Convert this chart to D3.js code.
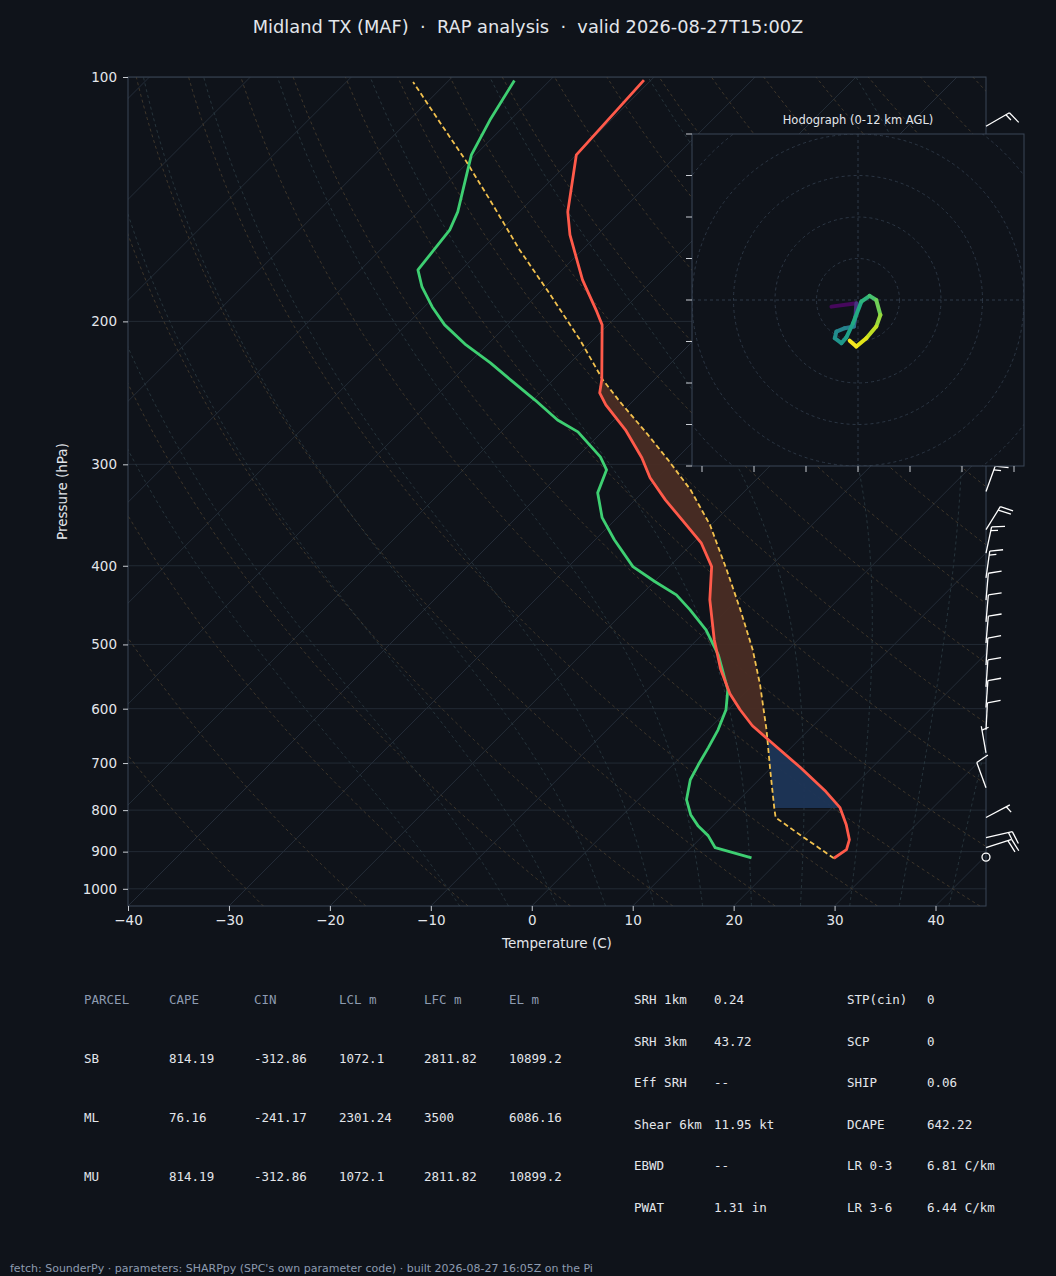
<!DOCTYPE html>
<html>
<head>
<meta charset="utf-8">
<script src="https://cdn.jsdelivr.net/npm/d3@7/dist/d3.min.js"></script>
<style>
  body { margin: 0; background: #0f131a; }
  svg { display: block; }
  text { font-family: "DejaVu Sans", sans-serif; }
  .mono { font-family: "DejaVu Sans Mono", monospace; }
</style>
</head>
<body>
<svg id="chart" width="1056" height="1276"></svg>
<script>
// ---- sounding data ----
var tempP = [917, 895, 870, 833.7, 794.5, 759, 709, 659, 629.7, 601.8, 575, 537, 493.4, 440.5, 401, 374.8, 351, 331.8, 311.7, 294.5, 272, 253.5, 245, 236, 202, 194.7, 177.8, 156.5, 146.6, 124.7, 100.9];
var tempT = [25.2, 25.6, 24.9, 23.1, 20.8, 17.8, 12.9, 7.4, 4.0, 1.2, -1.4, -4.7, -8.3, -12.7, -15.8, -19.2, -23.4, -27.0, -30.7, -33.5, -37.9, -42.3, -44.1, -45.2, -50.6, -52.4, -57.0, -62.7, -65.2, -70.0, -70.7];

var dewP = [916, 890, 860, 836, 810.5, 776.7, 734, 703, 670, 637, 601.8, 568.6, 515, 479.7, 453, 434.4, 418.6, 401, 371.6, 349, 325.3, 304.7, 293.7, 273.6, 264.5, 250, 236.8, 225, 213.8, 202, 192, 181.4, 172.8, 165.6, 154.3, 146.6, 124.7, 113, 101];
var dewT = [17.0, 12.4, 10.5, 8.5, 6.7, 4.8, 3.2, 2.5, 1.8, 1.0, -0.2, -2.0, -6.4, -10.1, -13.7, -16.5, -19.9, -23.6, -28.1, -31.5, -34.4, -35.8, -37.7, -42.4, -45.6, -49.8, -54.0, -57.9, -62.1, -66.2, -69.2, -72.2, -74.3, -74.6, -75.1, -76.1, -80.4, -82.0, -83.5];

var parcelP = [917, 857.8, 817, 799, 713, 637, 560.6, 507.6, 453, 404.6, 356.2, 322.5, 296.2, 273.6, 251.3, 236, 210.8, 185.5, 163.3, 141.7, 126.5, 113.6, 101.4];
var parcelT = [25.2, 19.5, 15.4, 14.5, 10.1, 5.8, 0.7, -3.5, -8.7, -14.0, -20.1, -25.5, -30.7, -35.7, -41.2, -45.1, -51.3, -58.7, -66.2, -74.1, -80.5, -86.8, -93.4];

// wind barbs: pressure (hPa), direction (deg), speed (kt)
var barbP   = [115, 150, 200, 250, 300, 324, 361, 386, 414, 441, 469, 498, 530, 564, 598, 637, 680, 751, 817, 865, 890];
var barbDir = [60, 40, 30, 30, 25, 20, 32, 12, 8, 5, 5, 5, 4, 4, 4, 3, 350, 340, 62, 77, 72];
var barbSpd = [15, 15, 15, 15, 15, 15, 20, 15, 15, 10, 10, 10, 10, 10, 10, 10, 5, 10, 5, 15, 20];
var calmP = 914;

// hodograph u/v (kt) and height AGL (km), 0 -> 12 km
var hodoU = [-6.4, -0.4, -0.6, -1.0, -3.2, -5.2, -5.6, -4.0, -2.8, -1.2, 0.8, 2.8, 4.4, 5.4, 4.4, 2.0, -0.4, -2.0];
var hodoV = [-1.6, -0.8, -4.0, -6.4, -6.8, -7.6, -9.2, -10.4, -9.0, -5.6, -0.4, 1.0, 0, -3.6, -6.4, -9.2, -11.2, -9.8];
var hodoZ = [0, 0.5, 3, 4.5, 5.2, 5.6, 6, 6.3, 6.6, 7, 7.5, 8, 9, 9.8, 10.5, 11.2, 11.7, 12];

var pressureTicks = [100, 200, 300, 400, 500, 600, 700, 800, 900, 1000];
var tempTicks = [-40, -30, -20, -10, 0, 10, 20, 30, 40];

var parcelRows = [
  ["SB", "814.19", "-312.86", "1072.1", "2811.82", "10899.2"],
  ["ML", "76.16", "-241.17", "2301.24", "3500", "6086.16"],
  ["MU", "814.19", "-312.86", "1072.1", "2811.82", "10899.2"]
];
var parcelHead = ["PARCEL", "CAPE", "CIN", "LCL m", "LFC m", "EL m"];
var paramsLeft = [["SRH 1km", "0.24"], ["SRH 3km", "43.72"], ["Eff SRH", "--"], ["Shear 6km", "11.95 kt"], ["EBWD", "--"], ["PWAT", "1.31 in"]];
var paramsRight = [["STP(cin)", "0"], ["SCP", "0"], ["SHIP", "0.06"], ["DCAPE", "642.22"], ["LR 0-3", "6.81 C/km"], ["LR 3-6", "6.44 C/km"]];

// ---- layout ----
var svg = d3.select('#chart');
var L = 128, R = 986, T = 77, B = 906;
var bg = '#0f131a', spine = '#3a4656', txt = '#e3e6eb';

var x = d3.scaleLinear().domain([-40, 45]).range([L, R]);
var y = d3.scaleLog().domain([1050, 100]).range([B, T]);
var sx = function(t, p) { return x(t) + (B - y(p)); };

svg.append('rect').attr('width', 1056).attr('height', 1276).attr('fill', bg);

svg.append('clipPath').attr('id', 'plotclip').append('rect')
  .attr('x', L).attr('y', T).attr('width', R - L).attr('height', B - T);
var g = svg.append('g').attr('clip-path', 'url(#plotclip)');

// background lines
var pGrid = d3.range(0, 61).map(function(i) { return 1050 * Math.pow(100 / 1050, i / 60); });
var line = d3.line().x(function(d) { return sx(d[0], d[1]); }).y(function(d) { return y(d[1]); });

// isotherms
d3.range(-150, 60, 10).forEach(function(t) {
  g.append('path').attr('d', line([[t, 1050], [t, 100]]))
    .attr('stroke', '#2a3340').attr('stroke-width', 0.8).attr('fill', 'none');
});
// isobars
pressureTicks.forEach(function(p) {
  g.append('line').attr('x1', L).attr('x2', R).attr('y1', y(p)).attr('y2', y(p))
    .attr('stroke', '#252d38').attr('stroke-width', 0.9);
});
// dry adiabats
d3.range(-30, 210, 10).forEach(function(th) {
  var pts = pGrid.map(function(p) { return [(th + 273.15) * Math.pow(p / 1000, 0.2857) - 273.15, p]; });
  g.append('path').attr('d', line(pts)).attr('fill', 'none')
    .attr('stroke', '#4a3f2e').attr('stroke-width', 0.8).attr('stroke-dasharray', '3,3');
});
// moist adiabats
function esat(tc) { return 6.112 * Math.exp(17.67 * tc / (tc + 243.5)); }
function moistGrad(tc, p) {
  var tk = tc + 273.15, rs = 0.622 * esat(tc) / (p - esat(tc));
  var Rd = 287.04, cp = 1005.7, Lv = 2.501e6;
  return (Rd * tk + Lv * rs) / (cp + Lv * Lv * rs * 0.622 / (Rd * tk * tk)) / p;
}
d3.range(-10, 50, 5).forEach(function(t0) {
  var pts = [[t0, 1000]], t = t0;
  for (var p = 1000; p > 100; p -= 5) { t -= moistGrad(t, p) * 5; pts.push([t, p - 5]); }
  var lo = [], tt = t0;
  for (var q = 1000; q < 1050; q += 5) { tt += moistGrad(tt, q) * 5; lo.push([tt, q + 5]); }
  pts = lo.reverse().concat(pts);
  g.append('path').attr('d', line(pts)).attr('fill', 'none')
    .attr('stroke', '#2c3c44').attr('stroke-width', 0.8).attr('stroke-dasharray', '3,3');
});

// CAPE / CIN shading
function interp(P, V) {
  return function(p) {
    for (var i = 0; i < P.length - 1; i++) {
      var a = P[i], b = P[i + 1];
      if ((p <= a && p >= b)) {
        var f = Math.log(a / p) / Math.log(a / b);
        return V[i] + f * (V[i + 1] - V[i]);
      }
    }
    return V[V.length - 1];
  };
}
var fT = interp(tempP, tempT), fP = interp(parcelP, parcelT);
var capeGrid = d3.range(200, 700, 2);
g.append('path').datum(capeGrid)
  .attr('d', d3.area()
    .x0(function(p) { return sx(fT(p), p); })
    .x1(function(p) { return sx(Math.max(fT(p), fP(p)), p); })
    .y(function(p) { return y(p); }))
  .attr('fill', '#4a2c24').attr('opacity', 0.95);
var cinGrid = d3.range(600, 796, 1);
g.append('path').datum(cinGrid)
  .attr('d', d3.area()
    .x0(function(p) { return sx(fP(p), p); })
    .x1(function(p) { return sx(Math.max(fT(p), fP(p)), p); })
    .y(function(p) { return y(p); }))
  .attr('fill', '#1d3557').attr('opacity', 0.95);

// profiles
function prof(P, V) { return P.map(function(p, i) { return [V[i], p]; }); }
g.append('path').attr('d', line(prof(parcelP, parcelT))).attr('fill', 'none')
  .attr('stroke', '#f2c14e').attr('stroke-width', 1.8).attr('stroke-dasharray', '5,3');
g.append('path').attr('d', line(prof(dewP, dewT))).attr('fill', 'none')
  .attr('stroke', '#3ecf72').attr('stroke-width', 2.8).attr('stroke-linejoin', 'round');
g.append('path').attr('d', line(prof(tempP, tempT))).attr('fill', 'none')
  .attr('stroke', '#ff5a4a').attr('stroke-width', 2.8).attr('stroke-linejoin', 'round');

// frame and axes
svg.append('rect').attr('x', L).attr('y', T).attr('width', R - L).attr('height', B - T)
  .attr('fill', 'none').attr('stroke', spine);
var yAxis = svg.append('g').attr('transform', 'translate(' + L + ',0)')
  .call(d3.axisLeft(y).tickValues(pressureTicks).tickFormat(d3.format('d')).tickSize(5).tickPadding(6));
var xAxis = svg.append('g').attr('transform', 'translate(0,' + B + ')')
  .call(d3.axisBottom(x).tickValues(tempTicks).tickFormat(function(d) { return d < 0 ? '\u2212' + (-d) : d; }).tickSize(5).tickPadding(4));
[xAxis, yAxis].forEach(function(a) {
  a.select('.domain').remove();
  a.selectAll('line').attr('stroke', '#c8ccd2');
  a.selectAll('text').attr('fill', txt).style('font-size', '13.5px');
});
svg.append('text').attr('x', (L + R) / 2).attr('y', 948).attr('text-anchor', 'middle')
  .attr('fill', txt).style('font-size', '13.5px').text('Temperature (C)');
svg.append('text').attr('transform', 'translate(67,' + (T + B) / 2 + ') rotate(-90)').attr('text-anchor', 'middle')
  .attr('fill', txt).style('font-size', '13.5px').text('Pressure (hPa)');
svg.append('text').attr('x', 528).attr('y', 33).attr('text-anchor', 'middle')
  .attr('fill', txt).style('font-size', '17.8px')
  .text('Midland TX (MAF)\u00a0\u00a0\u00b7\u00a0\u00a0RAP analysis\u00a0\u00a0\u00b7\u00a0\u00a0valid 2026-08-27T15:00Z');

// wind barbs
var bx = R;
var barbs = svg.append('g').attr('stroke', '#ffffff').attr('stroke-width', 1.3).attr('fill', 'none');
barbP.forEach(function(p, i) {
  var by = y(p), a = barbDir[i] * Math.PI / 180;
  var ux = Math.sin(a), uy = -Math.cos(a);      // towards direction wind is from
  var px = -uy, py = ux;                         // clockwise perpendicular
  var len = 27;
  var tx = bx + ux * len, ty = by + uy * len;
  barbs.append('line').attr('x1', bx).attr('y1', by).attr('x2', tx).attr('y2', ty);
  var s = barbSpd[i], pos = 0;
  var feather = function(fl) {
    var ox = tx - ux * pos, oy = ty - uy * pos;
    barbs.append('line').attr('x1', ox).attr('y1', oy)
      .attr('x2', ox + px * fl + ux * fl * 0.25).attr('y2', oy + py * fl + uy * fl * 0.25);
    pos += 4;
  };
  while (s >= 10) { feather(13); s -= 10; }
  if (s >= 5) { if (pos === 0) pos = 4; feather(7); }
});
svg.append('circle').attr('cx', bx).attr('cy', y(calmP)).attr('r', 4)
  .attr('fill', 'none').attr('stroke', '#ffffff').attr('stroke-width', 1.3);

// hodograph
var hx0 = 692, hy0 = 134, hw = 332;
var hs = d3.scaleLinear().domain([-40, 40]).range([0, hw]);
var hz = d3.scaleLinear().domain([0, 12]).range([0, 1]);
var hodo = svg.append('g').attr('transform', 'translate(' + hx0 + ',' + hy0 + ')');
hodo.append('rect').attr('width', hw).attr('height', hw).attr('fill', bg);
hodo.append('clipPath').attr('id', 'hodoclip').append('rect').attr('width', hw).attr('height', hw);
var hg = hodo.append('g').attr('clip-path', 'url(#hodoclip)');
[10, 20, 30, 40, 50].forEach(function(r) {
  hg.append('circle').attr('cx', hs(0)).attr('cy', hs(0)).attr('r', hs(r) - hs(0))
    .attr('fill', 'none').attr('stroke', '#2f3a48').attr('stroke-width', 0.9).attr('stroke-dasharray', '3,3');
});
hg.append('line').attr('x1', 0).attr('x2', hw).attr('y1', hs(0)).attr('y2', hs(0))
  .attr('stroke', '#2f3a48').attr('stroke-dasharray', '3,3');
hg.append('line').attr('y1', 0).attr('y2', hw).attr('x1', hs(0)).attr('x2', hs(0))
  .attr('stroke', '#2f3a48').attr('stroke-dasharray', '3,3');
for (var k = 0; k < hodoU.length - 1; k++) {
  hg.append('line')
    .attr('x1', hs(hodoU[k])).attr('y1', hs(-hodoV[k]))
    .attr('x2', hs(hodoU[k + 1])).attr('y2', hs(-hodoV[k + 1]))
    .attr('stroke', d3.interpolateViridis(hz((hodoZ[k] + hodoZ[k + 1]) / 2)))
    .attr('stroke-width', 4).attr('stroke-linecap', 'round');
}
hodo.append('rect').attr('width', hw).attr('height', hw).attr('fill', 'none').attr('stroke', spine);
d3.range(-40, 41, 10).forEach(function(v) {
  hodo.append('line').attr('x1', -6).attr('x2', 0).attr('y1', hs(v)).attr('y2', hs(v)).attr('stroke', '#c8ccd2');
});
var hbx = d3.scaleLinear().domain([-50, 50]).range([hw / 2 - 208, hw / 2 + 208]);
d3.range(-37.5, 40, 12.5).forEach(function(v) {
  hodo.append('line').attr('y1', hw).attr('y2', hw + 6).attr('x1', hbx(v)).attr('x2', hbx(v)).attr('stroke', '#c8ccd2');
});
hodo.append('text').attr('x', hw / 2).attr('y', -10).attr('text-anchor', 'middle')
  .attr('fill', txt).style('font-size', '11.5px').text('Hodograph (0-12 km AGL)');

// parameter tables
var tbl = svg.append('g').attr('class', 'mono').style('font-size', '12.5px');
var colX = [84, 169, 254, 339, 424, 509];
parcelHead.forEach(function(h, i) {
  tbl.append('text').attr('class', 'mono').attr('x', colX[i]).attr('y', 1004).attr('fill', '#8d9bb0').text(h);
});
parcelRows.forEach(function(row, r) {
  row.forEach(function(v, i) {
    tbl.append('text').attr('class', 'mono').attr('x', colX[i]).attr('y', 1063 + r * 59).attr('fill', txt).text(v);
  });
});
paramsLeft.forEach(function(d, r) {
  tbl.append('text').attr('class', 'mono').attr('x', 634).attr('y', 1004 + r * 41.6).attr('fill', txt).text(d[0]);
  tbl.append('text').attr('class', 'mono').attr('x', 714).attr('y', 1004 + r * 41.6).attr('fill', txt).text(d[1]);
});
paramsRight.forEach(function(d, r) {
  tbl.append('text').attr('class', 'mono').attr('x', 847).attr('y', 1004 + r * 41.6).attr('fill', txt).text(d[0]);
  tbl.append('text').attr('class', 'mono').attr('x', 927).attr('y', 1004 + r * 41.6).attr('fill', txt).text(d[1]);
});

svg.append('text').attr('x', 10).attr('y', 1272).attr('fill', '#8d9bb0').style('font-size', '11px')
  .text("fetch: SounderPy \u00b7 parameters: SHARPpy (SPC's own parameter code) \u00b7 built 2026-08-27 16:05Z on the Pi");
</script>
</body>
</html>
